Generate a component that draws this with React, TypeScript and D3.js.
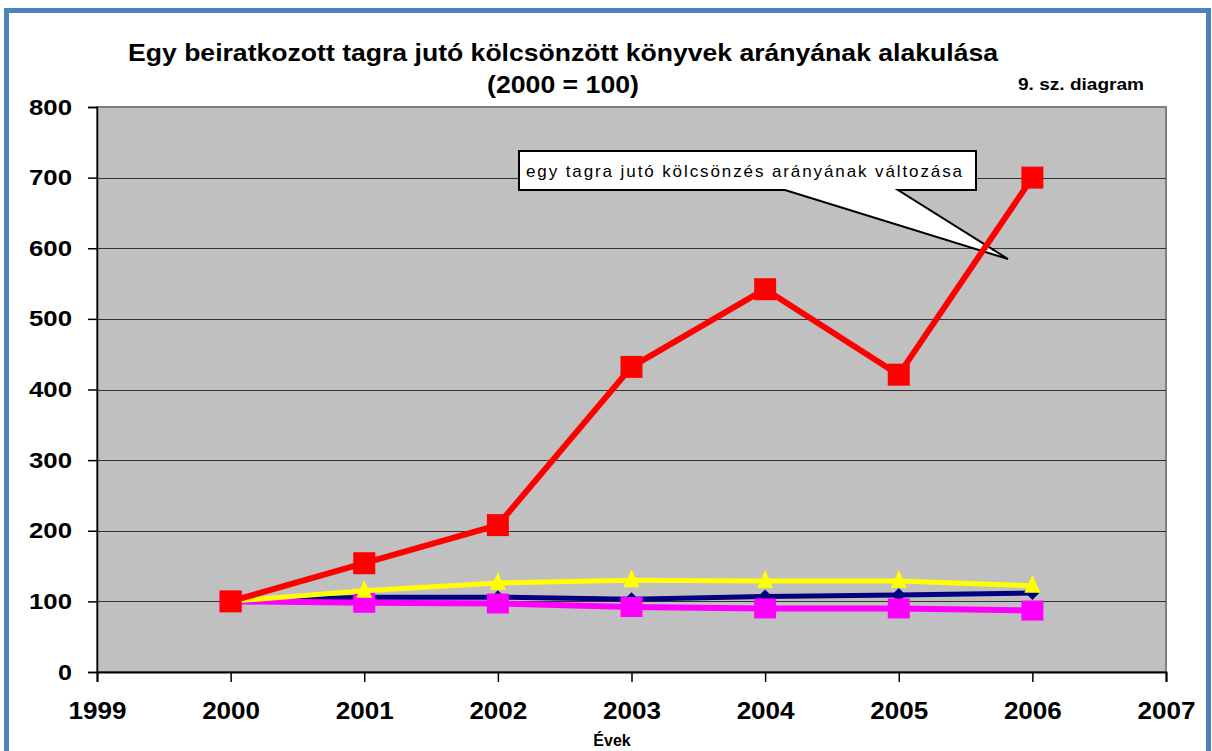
import { useEffect, useRef } from "react"
import * as d3 from "d3"

const years = [2000, 2001, 2002, 2003, 2004, 2005, 2006]
const redSeries = [100, 154, 208, 432, 542, 421, 700]
const yellowSeries = [100, 115, 126, 130, 129, 129, 122]
const navySeries = [100, 106, 106, 103, 107, 109, 112]
const magentaSeries = [100, 98, 97, 92, 90, 90, 87]
const yTicks = [0, 100, 200, 300, 400, 500, 600, 700, 800]
const xTicks = [1999, 2000, 2001, 2002, 2003, 2004, 2005, 2006, 2007]

const W = 1212
const H = 751

export default function App() {
  const svgRef = useRef<SVGSVGElement>(null)

  useEffect(() => {
    if (!svgRef.current) return
    const svg = d3.select(svgRef.current)
    svg.selectAll("*").remove()

    const font = "'Liberation Sans', Arial, sans-serif"
    const left = 97
    const right = 1166
    const top = 107
    const bottom = 672

    const x = d3.scaleLinear().domain([1999, 2007]).range([left, right])
    const y = d3.scaleLinear().domain([0, 800]).range([bottom, top])

    svg.append("rect").attr("width", W).attr("height", H).attr("fill", "#ffffff")
    // outer blue frame
    svg
      .append("rect")
      .attr("x", 6.5)
      .attr("y", 10.5)
      .attr("width", 1202)
      .attr("height", 760)
      .attr("fill", "none")
      .attr("stroke", "#4f81bd")
      .attr("stroke-width", 5)

    // title
    svg
      .append("text")
      .attr("x", 128)
      .attr("y", 61)
      .attr("textLength", 870)
      .attr("lengthAdjust", "spacingAndGlyphs")
      .attr("font-family", font)
      .attr("font-weight", "bold")
      .attr("font-size", 24)
      .text("Egy beiratkozott tagra jutó kölcsönzött könyvek arányának alakulása")
    svg
      .append("text")
      .attr("x", 487)
      .attr("y", 93)
      .attr("textLength", 152)
      .attr("lengthAdjust", "spacingAndGlyphs")
      .attr("font-family", font)
      .attr("font-weight", "bold")
      .attr("font-size", 24)
      .text("(2000 = 100)")
    svg
      .append("text")
      .attr("x", 1018)
      .attr("y", 90)
      .attr("textLength", 126)
      .attr("lengthAdjust", "spacingAndGlyphs")
      .attr("font-family", font)
      .attr("font-weight", "bold")
      .attr("font-size", 16)
      .text("9. sz. diagram")

    // plot area
    svg
      .append("rect")
      .attr("x", left)
      .attr("y", top)
      .attr("width", right - left)
      .attr("height", bottom - top)
      .attr("fill", "#c0c0c0")
      .attr("stroke", "#808080")
      .attr("stroke-width", 2)

    const grid = svg.append("g")
    yTicks.slice(1, -1).forEach((t) => {
      grid
        .append("line")
        .attr("x1", left)
        .attr("x2", right)
        .attr("y1", Math.round(y(t)) + 0.5)
        .attr("y2", Math.round(y(t)) + 0.5)
        .attr("stroke", "#333333")
        .attr("stroke-width", 1)
    })

    // axes
    const yAxis = svg
      .append("g")
      .attr("transform", `translate(${left},0)`)
      .call(d3.axisLeft(y).tickValues(yTicks).tickSize(9).tickPadding(16).tickFormat(d3.format("d")))
    yAxis.select(".domain").attr("stroke", "#000").attr("stroke-width", 1.5)
    yAxis.selectAll(".tick line").attr("stroke", "#000").attr("stroke-width", 1.5)
    yAxis
      .selectAll<SVGTextElement, number>("text")
      .attr("font-family", font)
      .attr("font-weight", "bold")
      .attr("font-size", 22)
      .attr("fill", "#000")
      .attr("textLength", (d) => (d === 0 ? 14 : 43))
      .attr("lengthAdjust", "spacingAndGlyphs")

    const xAxis = svg
      .append("g")
      .attr("transform", `translate(0,${bottom})`)
      .call(d3.axisBottom(x).tickValues(xTicks).tickSize(10).tickPadding(21).tickFormat(d3.format("d")))
    xAxis.select(".domain").attr("stroke", "#000").attr("stroke-width", 2)
    xAxis.selectAll(".tick line").attr("stroke", "#000").attr("stroke-width", 1.5)
    xAxis
      .selectAll("text")
      .attr("font-family", font)
      .attr("font-weight", "bold")
      .attr("font-size", 23)
      .attr("fill", "#000")
      .attr("textLength", 58)
      .attr("lengthAdjust", "spacingAndGlyphs")

    svg
      .append("text")
      .attr("x", 612)
      .attr("y", 746)
      .attr("text-anchor", "middle")
      .attr("font-family", font)
      .attr("font-weight", "bold")
      .attr("font-size", 16)
      .text("Évek")

    const line = d3
      .line<number>()
      .x((_, i) => x(years[i]))
      .y((d) => y(d))

    const drawLine = (data: number[], color: string, width: number) => {
      svg
        .append("path")
        .datum(data)
        .attr("d", line)
        .attr("fill", "none")
        .attr("stroke", color)
        .attr("stroke-width", width)
        .attr("stroke-linejoin", "round")
    }

    // callout (sits under the red series)
    const callout = svg.append("g")
    callout
      .append("path")
      .attr("d", "M519,151L976,151L976,190L898,190L1008,259L785,190L519,190Z")
      .attr("fill", "#ffffff")
      .attr("stroke", "#000")
      .attr("stroke-width", 2)
      .attr("stroke-linejoin", "miter")
    callout
      .append("text")
      .attr("x", 526)
      .attr("y", 177)
      .attr("textLength", 436)
      .attr("lengthAdjust", "spacing")
      .attr("font-family", font)
      .attr("font-size", 17)
      .text("egy tagra jutó kölcsönzés arányának változása")

    // navy
    drawLine(navySeries, "#000080", 5)
    svg
      .append("g")
      .selectAll("path")
      .data(navySeries)
      .join("path")
      .attr("d", "M0,-7L7,0L0,7L-7,0Z")
      .attr("transform", (d, i) => `translate(${x(years[i])},${y(d)})`)
      .attr("fill", "#000080")

    // magenta
    drawLine(magentaSeries, "#ff00ff", 6)
    svg
      .append("g")
      .selectAll("rect")
      .data(magentaSeries)
      .join("rect")
      .attr("x", (d, i) => x(years[i]) - 11)
      .attr("y", (d) => y(d) - 10)
      .attr("width", 22)
      .attr("height", 20)
      .attr("fill", "#ff00ff")

    // yellow
    drawLine(yellowSeries, "#ffff00", 5)
    svg
      .append("g")
      .selectAll("path")
      .data(yellowSeries)
      .join("path")
      .attr("d", "M0,-11L8,7L-8,7Z")
      .attr("transform", (d, i) => `translate(${x(years[i])},${y(d)})`)
      .attr("fill", "#ffff00")

    // red
    drawLine(redSeries, "#ff0000", 6)
    svg
      .append("g")
      .selectAll("rect")
      .data(redSeries)
      .join("rect")
      .attr("x", (d, i) => x(years[i]) - 11)
      .attr("y", (d) => y(d) - 11)
      .attr("width", 22)
      .attr("height", 22)
      .attr("fill", "#ff0000")
  }, [])

  return (
    <div style={{ position: "fixed", left: 0, top: 0, width: W, height: H, background: "#fff" }}>
      <svg ref={svgRef} width={W} height={H} style={{ display: "block" }} />
    </div>
  )
}
